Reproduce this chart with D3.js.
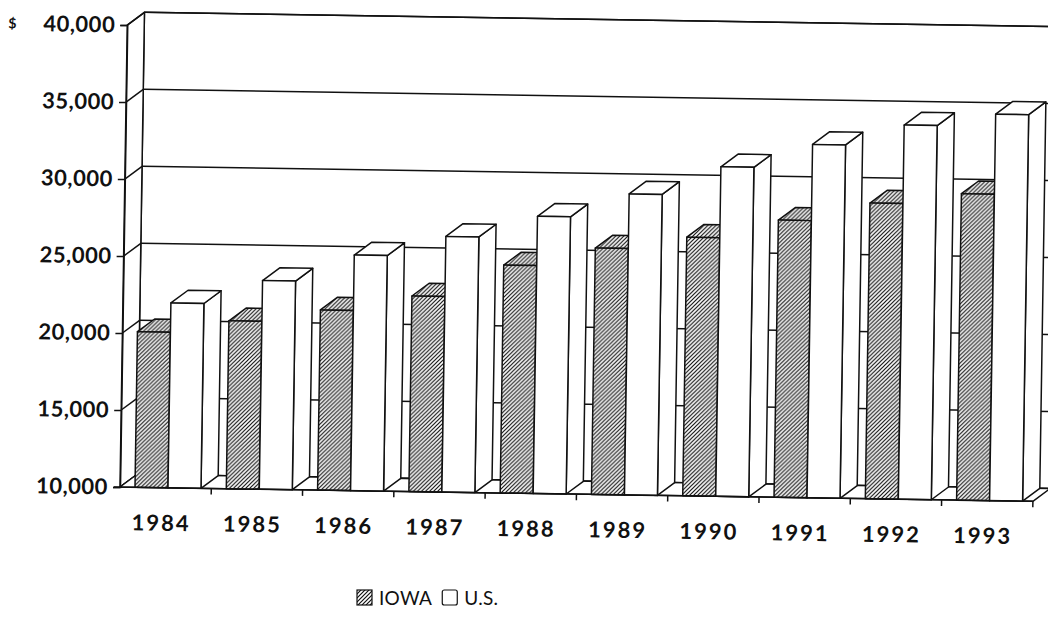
<!DOCTYPE html>
<html>
<head>
<meta charset="utf-8">
<script src="https://cdn.jsdelivr.net/npm/d3@7"></script>
<style>
  body { margin: 0; background: #fff; }
  svg { display: block; }
  text { font-family: Lato, "Noto Sans", sans-serif; fill: #111; }
</style>
</head>
<body>
<svg id="chart" width="1048" height="626"></svg>
<script>
// values
const years = ["1984", "1985", "1986", "1987", "1988", "1989", "1990", "1991", "1992", "1993"];
const iowa = [20100, 20900, 21700, 22700, 24800, 26000, 26800, 28000, 29200, 29900];
const us = [22000, 23550, 25300, 26600, 28000, 29550, 31400, 32950, 34300, 35100];
const seriesNames = ["IOWA", "U.S."];
const yTicks = [10000, 15000, 20000, 25000, 30000, 35000, 40000];

const svg = d3.select("#chart");

// hatch pattern for the Iowa series
const defs = svg.append("defs");
defs.append("pattern")
    .attr("id", "hatch")
    .attr("patternUnits", "userSpaceOnUse")
    .attr("width", 4)
    .attr("height", 4)
    .call(p => {
        p.append("rect").attr("width", 4).attr("height", 4).attr("fill", "#fff");
        p.append("path")
            .attr("d", "M-1,1 l2,-2 M0,4 l4,-4 M3,5 l2,-2")
            .attr("stroke", "#111")
            .attr("stroke-width", 1.2);
    });

const fills = { "IOWA": "url(#hatch)", "U.S.": "#fff" };

const x0 = 120, x1 = 1033;
const yBase = 487, yTop = 25;
const dx = 17, dy = -13;   // depth offset of the 3D walls

const x = d3.scaleBand().domain(years).range([x0, x1]);
const xs = d3.scaleBand().domain(seriesNames).range([15, 81]);
const y = d3.scaleLinear().domain([10000, 40000]).range([yBase, yTop]);

// whole plot is slightly tilted in the scan
const g = svg.append("g").attr("transform", `rotate(0.9, ${x0}, ${yBase})`);

const line = (pts) => "M" + pts.map(p => p.join(",")).join("L") + "Z";
const styled = (sel) => sel
    .attr("stroke", "#111")
    .attr("stroke-width", 1.5)
    .attr("stroke-linejoin", "round");

// back wall
g.append("rect")
    .attr("x", x0 + dx).attr("y", y(40000) + dy)
    .attr("width", x1 - x0).attr("height", yBase - y(40000))
    .attr("fill", "#fff")
    .call(styled);

g.append("g").selectAll("line")
    .data(yTicks)
    .join("line")
    .attr("x1", x0 + dx).attr("x2", x1 + dx)
    .attr("y1", d => y(d) + dy).attr("y2", d => y(d) + dy)
    .call(styled);

// left wall
g.append("path")
    .attr("d", line([[x0, yBase], [x0 + dx, yBase + dy], [x0 + dx, y(40000) + dy], [x0, y(40000)]]))
    .attr("fill", "#fff")
    .call(styled);

g.append("g").selectAll("line")
    .data(yTicks)
    .join("line")
    .attr("x1", x0).attr("x2", x0 + dx)
    .attr("y1", d => y(d)).attr("y2", d => y(d) + dy)
    .call(styled);

// floor
g.append("path")
    .attr("d", line([[x0, yBase], [x1, yBase], [x1 + dx, yBase + dy], [x0 + dx, yBase + dy]]))
    .attr("fill", "#fff")
    .call(styled);

// bars
const rows = years.flatMap((yr, i) => [
    { year: yr, key: "IOWA", value: iowa[i] },
    { year: yr, key: "U.S.", value: us[i] }
]);

g.append("g").selectAll("g")
    .data(rows)
    .join("g")
    .each(function (d) {
        const b = d3.select(this);
        const left = x(d.year) + xs(d.key);
        const right = left + xs.bandwidth();
        const top = y(d.value);
        // side face
        b.append("path")
            .attr("d", line([[right, yBase], [right + dx, yBase + dy], [right + dx, top + dy], [right, top]]))
            .attr("fill", fills[d.key])
            .call(styled);
        // top face
        b.append("path")
            .attr("d", line([[left, top], [right, top], [right + dx, top + dy], [left + dx, top + dy]]))
            .attr("fill", fills[d.key])
            .call(styled);
        // front face
        b.append("rect")
            .attr("x", left).attr("y", top)
            .attr("width", right - left).attr("height", yBase - top)
            .attr("fill", fills[d.key])
            .call(styled);
    });

// front baseline and category ticks
g.append("line")
    .attr("x1", x0 - 6).attr("x2", x1).attr("y1", yBase).attr("y2", yBase)
    .call(styled);

g.append("g").selectAll("line")
    .data(years.slice(1).map(yr => x(yr)).concat([x1]))
    .join("line")
    .attr("x1", d => d).attr("x2", d => d)
    .attr("y1", yBase).attr("y2", yBase + 6)
    .call(styled);

// left axis
const yAxis = g.append("g")
    .attr("transform", `translate(${x0},0)`)
    .call(d3.axisLeft(y).tickValues(yTicks).tickSize(7).tickPadding(5).tickFormat(d3.format(",")));
yAxis.select(".domain").attr("stroke", "#111").attr("stroke-width", 1.5);
yAxis.selectAll(".tick line").attr("stroke", "#111").attr("stroke-width", 1.5);
yAxis.selectAll(".tick text")
    .attr("font-family", "Lato, sans-serif")
    .attr("font-size", 22)
    .attr("font-weight", 700)
    .attr("letter-spacing", 0.5)
    .attr("fill", "#111");

// dollar sign on the top label
g.append("text")
    .attr("x", 1)
    .attr("y", y(40000) + 5)
    .attr("font-size", 14)
    .attr("font-weight", 700)
    .text("$");

// year labels
g.append("g").selectAll("text")
    .data(years)
    .join("text")
    .attr("x", d => x(d) + x.bandwidth() / 2 - 4)
    .attr("y", yBase + 43)
    .attr("text-anchor", "middle")
    .attr("font-size", 22)
    .attr("font-weight", 700)
    .attr("letter-spacing", 2)
    .text(d => d);

// legend
const legend = svg.append("g").attr("transform", "translate(357,590)");
let lx = 0;
seriesNames.forEach(name => {
    legend.append("rect")
        .attr("x", lx).attr("y", 0)
        .attr("width", 15).attr("height", 15)
        .attr("rx", name === "U.S." ? 2 : 0)
        .attr("fill", fills[name])
        .attr("stroke", "#111")
        .attr("stroke-width", 1.2);
    const t = legend.append("text")
        .attr("x", lx + 22).attr("y", 15)
        .attr("font-size", 19)
        .attr("letter-spacing", 0.3)
        .text(name);
    lx += 22 + t.node().getComputedTextLength() + 10;
});
</script>
</body>
</html>
